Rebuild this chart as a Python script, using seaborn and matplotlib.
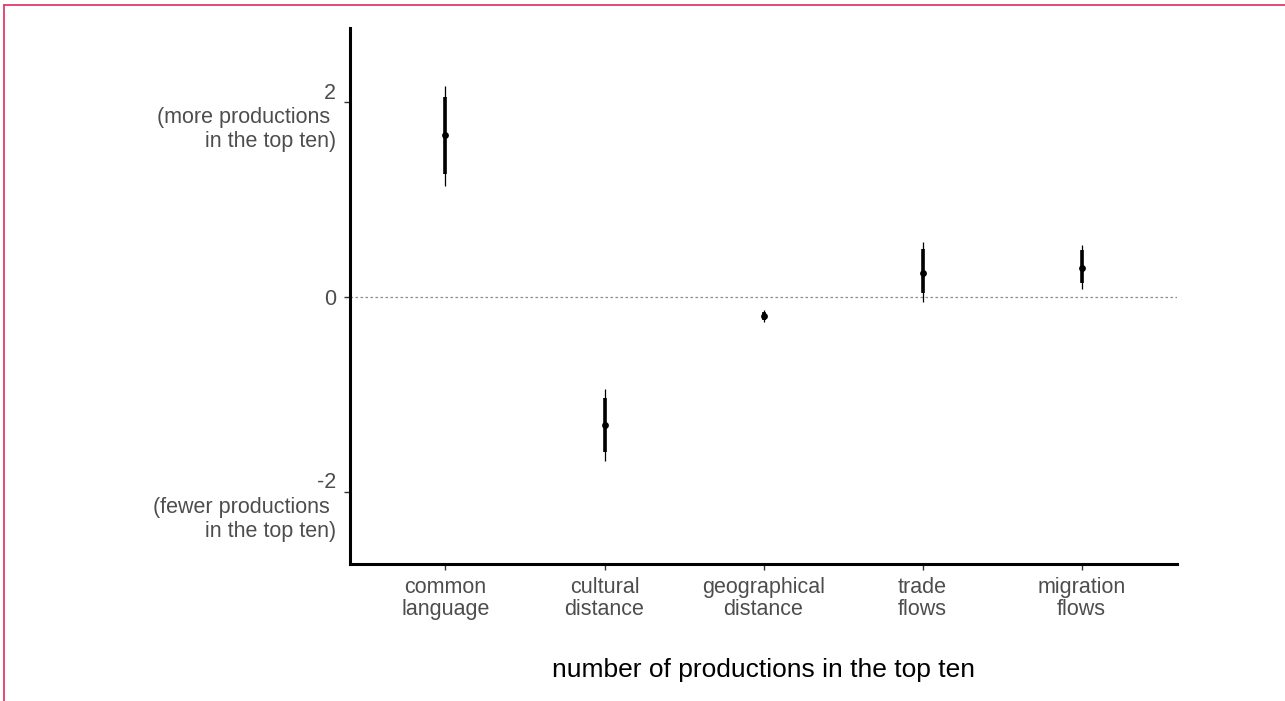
import numpy as np
import pandas as pd
import matplotlib
matplotlib.use("Agg")
import matplotlib.pyplot as plt
import matplotlib.transforms as mtransforms
from matplotlib.lines import Line2D
import seaborn as sns

# Coefficient estimates with inner (thick) and outer (thin) intervals
predictors = ["common\nlanguage", "cultural\ndistance", "geographical\ndistance",
              "trade\nflows", "migration\nflows"]
estimate = [1.66, -1.31, -0.20, 0.25, 0.30]
inner_lo = [1.26, -1.59, -0.24, 0.04, 0.14]
inner_hi = [2.05, -1.04, -0.15, 0.49, 0.48]
outer_lo = [1.14, -1.68, -0.26, -0.05, 0.08]
outer_hi = [2.17, -0.94, -0.13, 0.56, 0.53]

y_ticks = [2, 0, -2]
y_tick_labels = ["2\n(more productions \nin the top ten)", "0",
                 "-2\n(fewer productions \nin the top ten)"]
x_title = "number of productions in the top ten"

df = pd.DataFrame({"predictor": predictors, "estimate": estimate,
                   "inner_lo": inner_lo, "inner_hi": inner_hi,
                   "outer_lo": outer_lo, "outer_hi": outer_hi})

sns.set_theme(style="white")
plt.rcParams["font.family"] = ["Liberation Sans", "DejaVu Sans"]

fig = plt.figure(figsize=(12.85, 7.01), dpi=100)
ax = fig.add_axes([0.2724, 0.1954, 0.9160 - 0.2724, 0.9600 - 0.1954])

pos = np.arange(len(df))
ax.axhline(0, color="#8c8c8c", lw=0.9, ls=(0, (2, 2)), zorder=1)
ax.vlines(pos, df["outer_lo"], df["outer_hi"], color="black", lw=0.9, zorder=2)
ax.vlines(pos, df["inner_lo"], df["inner_hi"], color="black", lw=2.6, zorder=3)
sns.scatterplot(x=pos, y=df["estimate"], color="black", s=24,
                edgecolor="black", linewidth=0, ax=ax, zorder=4)

ax.set_xlim(-0.6, 4.6)
ax.set_ylim(-2.74, 2.76)
ax.set_xticks(pos)
ax.set_xticklabels(df["predictor"], fontsize=15.5, color="#4d4d4d",
                   linespacing=1.1)
ax.set_yticks(y_ticks)
ax.set_yticklabels(y_tick_labels, fontsize=15.5, color="#4d4d4d",
                   ha="right", linespacing=1.2)
ax.tick_params(axis="both", length=4, width=1, color="#333333",
               left=True, bottom=True)
ax.tick_params(axis="x", pad=5)
ax.tick_params(axis="y", pad=6)

# push the annotated value labels down so the number sits just above its tick
shift = mtransforms.ScaledTranslation(0, -0.11, fig.dpi_scale_trans)
for lab in ax.get_yticklabels():
    if "\n" in lab.get_text():
        lab.set_transform(lab.get_transform() + shift)

ax.set_xlabel(x_title, fontsize=19, color="black", labelpad=27)
ax.set_ylabel("")

for side in ["top", "right"]:
    ax.spines[side].set_visible(False)
for side in ["left", "bottom"]:
    ax.spines[side].set_color("black")
    ax.spines[side].set_linewidth(2.2)

# thin frame along the top and left edges of the figure
fig.add_artist(Line2D([0.0035, 1.0], [0.9935, 0.9935], transform=fig.transFigure,
                      color="#e03a68", lw=1.3))
fig.add_artist(Line2D([0.0035, 0.0035], [0.0, 0.9935], transform=fig.transFigure,
                      color="#e03a68", lw=1.3))

fig.savefig("out.png", dpi=100, facecolor="white")
